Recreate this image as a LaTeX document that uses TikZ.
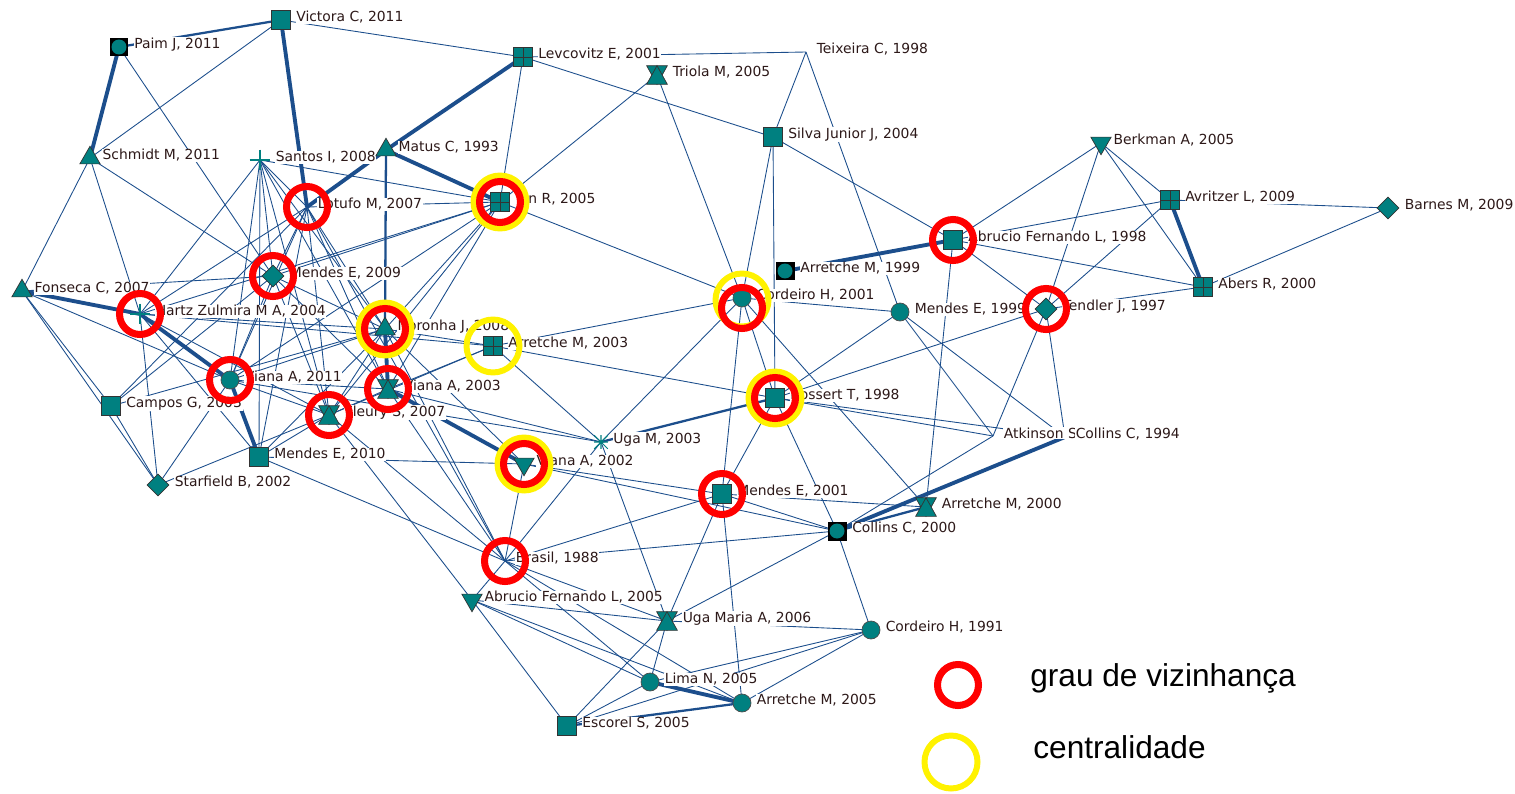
\documentclass[tikz,border=0pt]{standalone}
\usepackage{fontspec}
\newfontfamily\labfont{DejaVu Sans}
\newfontfamily\legfont{Liberation Sans}
\usetikzlibrary{shapes.geometric,backgrounds}
\definecolor{nodeteal}{RGB}{0,128,128}
\definecolor{edgeblue}{RGB}{28,78,140}
\definecolor{labtxt}{RGB}{45,25,25}
\begin{document}
\begin{tikzpicture}[x={(0.02cm,0cm)},y={(0cm,-0.02cm)},
  sq/.style={rectangle,draw=black!80,fill=nodeteal,minimum size=0.38cm,inner sep=0pt},
  circ/.style={circle,draw=black!70,fill=nodeteal,minimum size=0.36cm,inner sep=0pt},
  csq/.style={rectangle,fill=black,minimum size=0.38cm,inner sep=0pt,
    path picture={\fill[nodeteal] (path picture bounding box.center) circle (0.15cm);}},
  tup/.style={regular polygon,regular polygon sides=3,draw=black!80,fill=nodeteal,minimum size=0.47cm,inner sep=0pt},
  tdn/.style={tup,shape border rotate=180},
  dia/.style={diamond,draw=black!80,fill=nodeteal,minimum size=0.44cm,inner sep=0pt},
  hg/.style={rectangle,minimum width=0.4cm,minimum height=0.36cm,inner sep=0pt},
  ptnode/.style={inner sep=0pt,minimum size=0.2cm},
  crs/.style={inner sep=0pt,minimum size=0.4cm},
  link/.style={draw=edgeblue,line width=0.5pt},
  linkmid/.style={draw=edgeblue,line width=1.3pt},
  linkheavy/.style={draw=edgeblue,line width=2.2pt},
  redring/.style={draw=red,line width=4pt},
  yelring/.style={draw=yellow,line width=3.4pt},
  legtxt/.style={font=\legfont\fontsize{18}{20}\selectfont,inner sep=0pt},
  every label/.style={font=\labfont\fontsize{7.9}{9}\selectfont,fill=white,inner sep=0.4pt,text=labtxt,yshift=1.5pt},
  label distance=2.5pt]
  \useasboundingbox (0,0) rectangle (1515,794);

  % authors
  \node[sq,label={right:Victora C, 2011}] (victora) at (281,20) {};
  \node[csq,label={right:Paim J, 2011}] (paim) at (119,47) {};
  \node[tup,label={right:Schmidt M, 2011}] (schmidt) at (90,158) {};
  \node[crs,label={right:Santos I, 2008}] (santos) at (260,160) {};
  \node[tup,label={right:Matus C, 1993}] (matus) at (386,150) {};
  \node[sq,label={right:Levcovitz E, 2001}] (levco) at (523,57) {};
  \node[hg,label={right:Triola M, 2005}] (triola) at (657,75) {};
  \node[ptnode,label={right:Teixeira C, 1998}] (teixeira) at (806,52) {};
  \node[sq,label={right:Silva Junior J, 2004}] (silva) at (773,137) {};
  \node[tdn,label={right:Berkman A, 2005}] (berkman) at (1101,143) {};
  \node[sq,label={right:Avritzer L, 2009}] (avritzer) at (1170,200) {};
  \node[dia,label={right:Barnes M, 2009}] (barnes) at (1388,208) {};
  \node[sq,label={right:Abers R, 2000}] (abers) at (1203,287) {};
  \node[sq,label={right:Abrucio Fernando L, 1998}] (abrucioA) at (953,240) {};
  \node[csq,label={right:Arretche M, 1999}] (arrA) at (785,271) {};
  \node[circ,label={right:Cordeiro H, 2001}] (cordA) at (742,298) {};
  \node[circ,label={right:Mendes E, 1999}] (mendesA) at (900,312) {};
  \node[dia,label={right:Tendler J, 1997}] (tendler) at (1046,309) {};
  \node[sq,label={right:Bossert T, 1998}] (bossert) at (775,398) {};
  \node[ptnode,label={right:Atkinson S}] (atkinson) at (993,436) {};
  \node[ptnode,label={right:Collins C, 1994}] (collinsA) at (1065,437) {};
  \node[crs,minimum size=0.26cm,label={right:Uga M, 2003}] (ugaA) at (601,442) {};
  \node[tdn,label={right:Viana A, 2002}] (vianaA) at (524,464) {};
  \node[sq,label={right:Mendes E, 2001}] (mendesB) at (722,494) {};
  \node[hg,label={right:Arretche M, 2000}] (arrB) at (926,507) {};
  \node[csq,label={right:Collins C, 2000}] (collinsB) at (837,531) {};
  \node[ptnode,label={right:Brasil, 1988}] (brasil) at (505,561) {};
  \node[tdn,label={right:Abrucio Fernando L, 2005}] (abrucioB) at (472,600) {};
  \node[hg,label={right:Uga Maria A, 2006}] (ugaB) at (667,621) {};
  \node[circ,label={right:Cordeiro H, 1991}] (cordB) at (871,630) {};
  \node[circ,label={right:Lima N, 2005}] (lima) at (650,682) {};
  \node[circ,label={right:Arretche M, 2005}] (arrC) at (742,703) {};
  \node[sq,label={right:Escorel S, 2005}] (escorel) at (567,726) {};
  \node[tup,label={right:Fonseca C, 2007}] (fonseca) at (22,291) {};
  \node[crs,label={right:Hartz Zulmira M A, 2004}] (hartz) at (140,314) {};
  \node[dia,label={right:Mendes E, 2009}] (mendesC) at (273,276) {};
  \node[tup,label={right:Noronha J, 2008}] (noronha) at (385,329) {};
  \node[sq,label={right:Arretche M, 2003}] (arrD) at (493,346) {};
  \node[ptnode,label={right:Lotufo M, 2007}] (lotufo) at (307,207) {};
  \node[sq,label={[label distance=0.35cm]right:n R, 2005}] (hubR) at (500,202) {};
  \node[hg,label={right:Viana A, 2003}] (vianaB) at (388,389) {};
  \node[circ,label={right:Viana A, 2011}] (vianaC) at (230,380) {};
  \node[hg,label={right:Fleury S, 2007}] (fleury) at (329,415) {};
  \node[sq,label={right:Campos G, 2003}] (campos) at (111,406) {};
  \node[sq,label={right:Mendes E, 2010}] (mendesD) at (259,457) {};
  \node[dia,label={right:Starfield B, 2002}] (starfield) at (158,485) {};

  % symbols drawn over the plain nodes
  \foreach \p in {levco,avritzer,abers,hubR,arrD}
    \draw[black!80] (\p.north) -- (\p.south) (\p.west) -- (\p.east);
  \foreach \p in {triola,vianaB,fleury,arrB,ugaB}
  {\filldraw[fill=nodeteal,draw=black!80] (\p.north west) -- (\p.north east) -- (\p.south) -- cycle;
   \filldraw[fill=nodeteal,draw=black!80] (\p.south west) -- (\p.south east) -- (\p.north) -- cycle;};
  \foreach \p in {santos,hartz}
    \draw[nodeteal,line width=0.6pt] (\p.north) -- (\p.south) (\p.west) -- (\p.east);
  \draw[nodeteal,line width=0.6pt] (ugaA.north) -- (ugaA.south) (ugaA.west) -- (ugaA.east)
    (ugaA.north west) -- (ugaA.south east) (ugaA.north east) -- (ugaA.south west);

  % ties
  \begin{scope}[on background layer]
  \foreach \a/\b in {victora/lotufo,paim/schmidt,matus/levco,matus/hubR,matus/lotufo,
    noronha/vianaB,vianaB/vianaA,fonseca/hartz,hartz/vianaC,vianaC/mendesD,arrA/abrucioA,
    avritzer/abers,collinsA/collinsB,lima/arrC}
    \draw[linkheavy] (\a.center) -- (\b.center);
  \foreach \a/\b in {victora/paim,matus/noronha,collinsB/arrB,escorel/arrC,ugaA/bossert}
    \draw[linkmid] (\a.center) -- (\b.center);
  \foreach \a/\b in {victora/schmidt,victora/levco,paim/mendesC,
    schmidt/fonseca,schmidt/hartz,schmidt/mendesC,
    santos/hubR,santos/mendesC,santos/hartz,santos/vianaC,santos/fleury,santos/noronha,
    santos/vianaB,santos/mendesD,santos/lotufo,
    lotufo/hubR,lotufo/mendesC,lotufo/hartz,lotufo/vianaC,lotufo/fleury,lotufo/noronha,
    lotufo/vianaB,lotufo/campos,lotufo/mendesD,lotufo/brasil,
    levco/hubR,levco/silva,levco/teixeira,triola/hubR,triola/cordA,
    teixeira/silva,teixeira/mendesA,silva/abrucioA,silva/cordA,silva/bossert,
    berkman/abrucioA,berkman/avritzer,berkman/abers,berkman/tendler,
    avritzer/barnes,avritzer/abrucioA,avritzer/tendler,
    abers/barnes,abers/abrucioA,abers/tendler,abrucioA/tendler,abrucioA/arrB,
    cordA/arrD,cordA/mendesA,cordA/hubR,cordA/ugaA,cordA/bossert,cordA/mendesB,cordA/arrB,
    mendesA/bossert,mendesA/atkinson,mendesA/collinsA,
    tendler/bossert,tendler/atkinson,tendler/collinsA,
    bossert/arrD,bossert/atkinson,bossert/collinsA,bossert/collinsB,bossert/mendesB,
    atkinson/collinsB,
    ugaA/arrD,ugaA/vianaB,ugaA/ugaB,ugaA/brasil,ugaA/vianaC,
    vianaA/mendesB,vianaA/collinsB,vianaA/brasil,vianaA/noronha,vianaA/mendesD,
    mendesB/collinsB,mendesB/arrB,mendesB/brasil,mendesB/ugaB,mendesB/arrC,
    collinsB/brasil,collinsB/ugaB,collinsB/cordB,
    brasil/noronha,brasil/fleury,brasil/vianaB,brasil/mendesD,brasil/abrucioB,
    brasil/ugaB,brasil/lima,brasil/arrC,
    abrucioB/fleury,abrucioB/ugaB,abrucioB/escorel,abrucioB/lima,abrucioB/arrC,
    ugaB/lima,ugaB/escorel,ugaB/cordB,cordB/lima,cordB/arrC,cordB/escorel,lima/escorel,
    fonseca/campos,fonseca/starfield,fonseca/mendesC,fonseca/vianaC,
    hartz/noronha,hartz/hubR,hartz/starfield,hartz/mendesD,hartz/fleury,hartz/arrD,
    mendesC/hubR,mendesC/noronha,mendesC/vianaB,mendesC/fleury,mendesC/vianaC,mendesC/campos,
    noronha/hubR,noronha/arrD,noronha/vianaC,noronha/fleury,noronha/mendesD,noronha/campos,
    arrD/vianaB,arrD/fleury,vianaC/fleury,vianaC/vianaB,vianaC/starfield,
    fleury/mendesD,fleury/starfield,fleury/vianaB,campos/starfield,
    hubR/vianaB,hubR/fleury,hubR/vianaC}
    \draw[link] (\a.center) -- (\b.center);
  \end{scope}

  % highlights
  \foreach \p in {hubR,noronha,arrD,vianaA,bossert}
    \draw[yelring] (\p.center) circle (0.53cm);
  \draw[yelring] ([yshift=-0.04cm]cordA.center) circle (0.53cm);
  \foreach \p in {lotufo,hubR,mendesC,hartz,noronha,vianaC,vianaB,fleury,vianaA,brasil,
    bossert,mendesB,abrucioA,tendler}
    \draw[redring] (\p.center) circle (0.41cm);
  \draw[redring] ([yshift=-0.2cm]cordA.center) circle (0.41cm);

  % legend
  \draw[redring] (958,685) circle (0.41cm);
  \draw[yelring] (951,762) circle (0.53cm);
  \node[legtxt,anchor=base west] (legdeg) at (1030,686) {grau de vizinhança};
  \node[legtxt,anchor=base west] (legcen) at (1033,758) {centralidade};
\end{tikzpicture}
\end{document}
